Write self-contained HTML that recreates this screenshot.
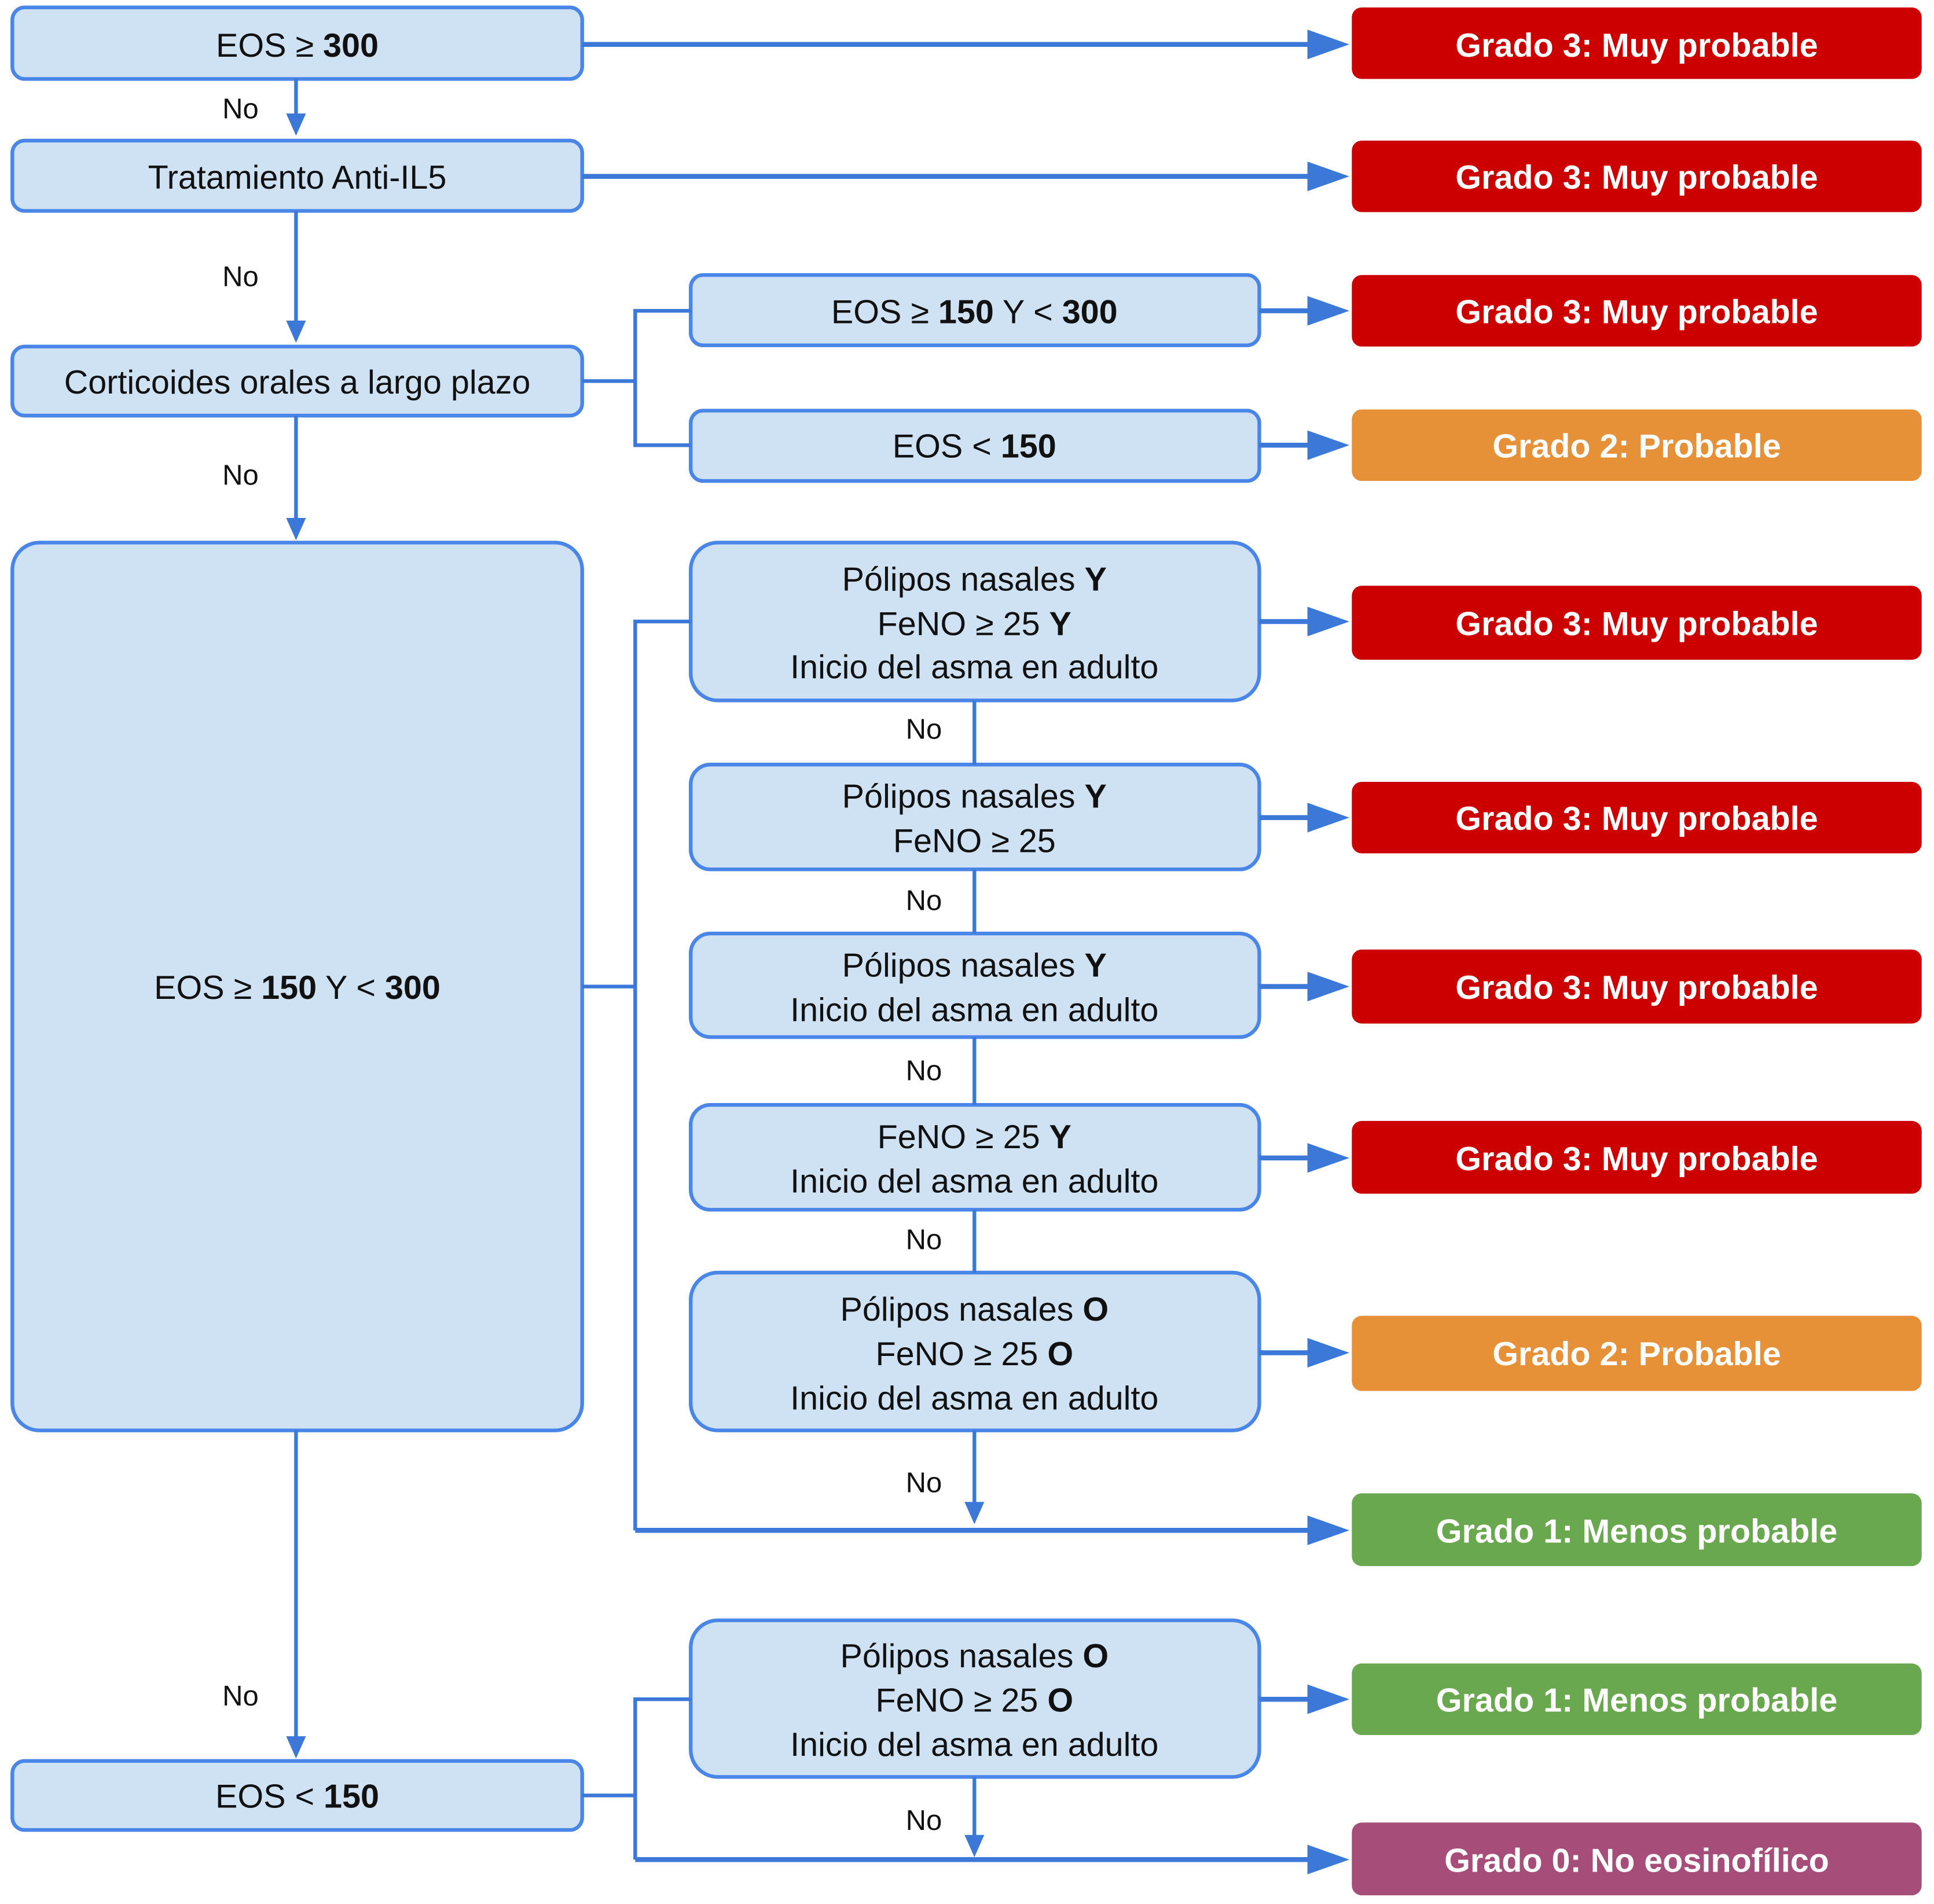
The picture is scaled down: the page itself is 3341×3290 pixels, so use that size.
<!DOCTYPE html>
<html><head><meta charset="utf-8"><style>
html,body{margin:0;padding:0;background:#fff;}
svg{display:block;}
text{font-family:"Liberation Sans",sans-serif;}
</style></head><body>
<svg width="3341" height="3290" viewBox="0 0 1568 1544" xmlns="http://www.w3.org/2000/svg">
<defs>
<marker id="a" markerWidth="8" markerHeight="8" refX="7.5" refY="4" orient="auto" markerUnits="userSpaceOnUse" viewBox="0 0 8 8">
</marker>
</defs>
<g fill="#cfe2f3" stroke="#4a86e8" stroke-width="3">
<rect x="10" y="6" width="462" height="58" rx="10"/>
<rect x="10" y="114" width="462" height="57" rx="10"/>
<rect x="10" y="281" width="462" height="56" rx="10"/>
<rect x="10" y="440" width="462" height="720" rx="22"/>
<rect x="10" y="1428" width="462" height="56" rx="10"/>
<rect x="560" y="223" width="461" height="57" rx="10"/>
<rect x="560" y="333" width="461" height="57" rx="10"/>
<rect x="560" y="440" width="461" height="128" rx="22"/>
<rect x="560" y="620" width="461" height="85" rx="16"/>
<rect x="560" y="757" width="461" height="84" rx="16"/>
<rect x="560" y="896" width="461" height="85" rx="16"/>
<rect x="560" y="1032" width="461" height="128" rx="22"/>
<rect x="560" y="1314" width="461" height="127" rx="22"/>
</g>
<g>
<rect x="1096" y="6" width="462" height="58" rx="8" fill="#cc0000"/>
<rect x="1096" y="114" width="462" height="58" rx="8" fill="#cc0000"/>
<rect x="1096" y="223" width="462" height="58" rx="8" fill="#cc0000"/>
<rect x="1096" y="332" width="462" height="58" rx="8" fill="#e69138"/>
<rect x="1096" y="475" width="462" height="60" rx="8" fill="#cc0000"/>
<rect x="1096" y="634" width="462" height="58" rx="8" fill="#cc0000"/>
<rect x="1096" y="770" width="462" height="60" rx="8" fill="#cc0000"/>
<rect x="1096" y="909" width="462" height="59" rx="8" fill="#cc0000"/>
<rect x="1096" y="1067" width="462" height="61" rx="8" fill="#e69138"/>
<rect x="1096" y="1211" width="462" height="59" rx="8" fill="#6aa84f"/>
<rect x="1096" y="1349" width="462" height="58" rx="8" fill="#6aa84f"/>
<rect x="1096" y="1478" width="462" height="59" rx="8" fill="#a64d79"/>
</g>
<g stroke="#3c78d8" fill="none">
<g stroke-width="4">
<line x1="472" y1="36" x2="1066" y2="36"/>
<line x1="472" y1="143" x2="1066" y2="143"/>
<line x1="1021" y1="252" x2="1066" y2="252"/>
<line x1="1021" y1="361" x2="1066" y2="361"/>
<line x1="1021" y1="504" x2="1066" y2="504"/>
<line x1="1021" y1="663" x2="1066" y2="663"/>
<line x1="1021" y1="800" x2="1066" y2="800"/>
<line x1="1021" y1="939" x2="1066" y2="939"/>
<line x1="1021" y1="1097" x2="1066" y2="1097"/>
<line x1="1021" y1="1378" x2="1066" y2="1378"/>
<line x1="515" y1="1241" x2="1066" y2="1241"/>
<line x1="515" y1="1508" x2="1066" y2="1508"/>
</g>
<g stroke-width="3">
<line x1="240" y1="64" x2="240" y2="96"/>
<line x1="240" y1="171" x2="240" y2="264"/>
<line x1="240" y1="337" x2="240" y2="424"/>
<line x1="240" y1="1160" x2="240" y2="1412"/>
<polyline points="472,309 515,309"/>
<polyline points="560,252 515,252 515,361 560,361"/>
<polyline points="472,800 515,800"/>
<polyline points="560,504 515,504 515,1241"/>
<line x1="790" y1="568" x2="790" y2="620"/>
<line x1="790" y1="705" x2="790" y2="757"/>
<line x1="790" y1="841" x2="790" y2="896"/>
<line x1="790" y1="981" x2="790" y2="1032"/>
<line x1="790" y1="1160" x2="790" y2="1222"/>
<polyline points="472,1456 515,1456"/>
<polyline points="560,1378 515,1378 515,1508"/>
<line x1="790" y1="1441" x2="790" y2="1492"/>
</g>
</g>
<g fill="#3c78d8">
<polygon points="1060,24 1094,36 1060,48"/>
<polygon points="1060,131 1094,143 1060,155"/>
<polygon points="1060,240 1094,252 1060,264"/>
<polygon points="1060,349 1094,361 1060,373"/>
<polygon points="1060,492 1094,504 1060,516"/>
<polygon points="1060,651 1094,663 1060,675"/>
<polygon points="1060,788 1094,800 1060,812"/>
<polygon points="1060,927 1094,939 1060,951"/>
<polygon points="1060,1085 1094,1097 1060,1109"/>
<polygon points="1060,1229 1094,1241 1060,1253"/>
<polygon points="1060,1366 1094,1378 1060,1390"/>
<polygon points="1060,1496 1094,1508 1060,1520"/>
<polygon points="232,92 240,110 248,92"/>
<polygon points="232,260 240,278 248,260"/>
<polygon points="232,420 240,438 248,420"/>
<polygon points="232,1408 240,1426 248,1408"/>
<polygon points="782,1218 790,1236 798,1218"/>
<polygon points="782,1488 790,1506 798,1488"/>
</g>
<g font-size="27" fill="#111" text-anchor="middle">
<text x="241" y="46">EOS ≥ <tspan font-weight="bold">300</tspan></text>
<text x="241" y="153">Tratamiento Anti-IL5</text>
<text x="241" y="319">Corticoides orales a largo plazo</text>
<text x="241" y="810">EOS ≥ <tspan font-weight="bold">150</tspan> Y &lt; <tspan font-weight="bold">300</tspan></text>
<text x="241" y="1466">EOS &lt; <tspan font-weight="bold">150</tspan></text>
<text x="790" y="262">EOS ≥ <tspan font-weight="bold">150</tspan> Y &lt; <tspan font-weight="bold">300</tspan></text>
<text x="790" y="371">EOS &lt; <tspan font-weight="bold">150</tspan></text>
<text x="790" y="479">Pólipos nasales <tspan font-weight="bold">Y</tspan></text>
<text x="790" y="515">FeNO ≥ 25 <tspan font-weight="bold">Y</tspan></text>
<text x="790" y="550">Inicio del asma en adulto</text>
<text x="790" y="655">Pólipos nasales <tspan font-weight="bold">Y</tspan></text>
<text x="790" y="691">FeNO ≥ 25</text>
<text x="790" y="792">Pólipos nasales <tspan font-weight="bold">Y</tspan></text>
<text x="790" y="828">Inicio del asma en adulto</text>
<text x="790" y="931">FeNO ≥ 25 <tspan font-weight="bold">Y</tspan></text>
<text x="790" y="967">Inicio del asma en adulto</text>
<text x="790" y="1071">Pólipos nasales <tspan font-weight="bold">O</tspan></text>
<text x="790" y="1107">FeNO ≥ 25 <tspan font-weight="bold">O</tspan></text>
<text x="790" y="1143">Inicio del asma en adulto</text>
<text x="790" y="1352">Pólipos nasales <tspan font-weight="bold">O</tspan></text>
<text x="790" y="1388">FeNO ≥ 25 <tspan font-weight="bold">O</tspan></text>
<text x="790" y="1424">Inicio del asma en adulto</text>
</g>
<g font-size="23" fill="#111" text-anchor="middle">
<text x="195" y="96">No</text>
<text x="195" y="232">No</text>
<text x="195" y="393">No</text>
<text x="195" y="1383">No</text>
<text x="749" y="599">No</text>
<text x="749" y="738">No</text>
<text x="749" y="876">No</text>
<text x="749" y="1013">No</text>
<text x="749" y="1210">No</text>
<text x="749" y="1484">No</text>
</g>
<g font-size="27" font-weight="bold" fill="#fff" text-anchor="middle">
<text x="1327" y="46">Grado 3: Muy probable</text>
<text x="1327" y="153">Grado 3: Muy probable</text>
<text x="1327" y="262">Grado 3: Muy probable</text>
<text x="1327" y="371">Grado 2: Probable</text>
<text x="1327" y="515">Grado 3: Muy probable</text>
<text x="1327" y="673">Grado 3: Muy probable</text>
<text x="1327" y="810">Grado 3: Muy probable</text>
<text x="1327" y="949">Grado 3: Muy probable</text>
<text x="1327" y="1107">Grado 2: Probable</text>
<text x="1327" y="1251">Grado 1: Menos probable</text>
<text x="1327" y="1388">Grado 1: Menos probable</text>
<text x="1327" y="1518">Grado 0: No eosinofílico</text>
</g>
</svg>
</body></html>
